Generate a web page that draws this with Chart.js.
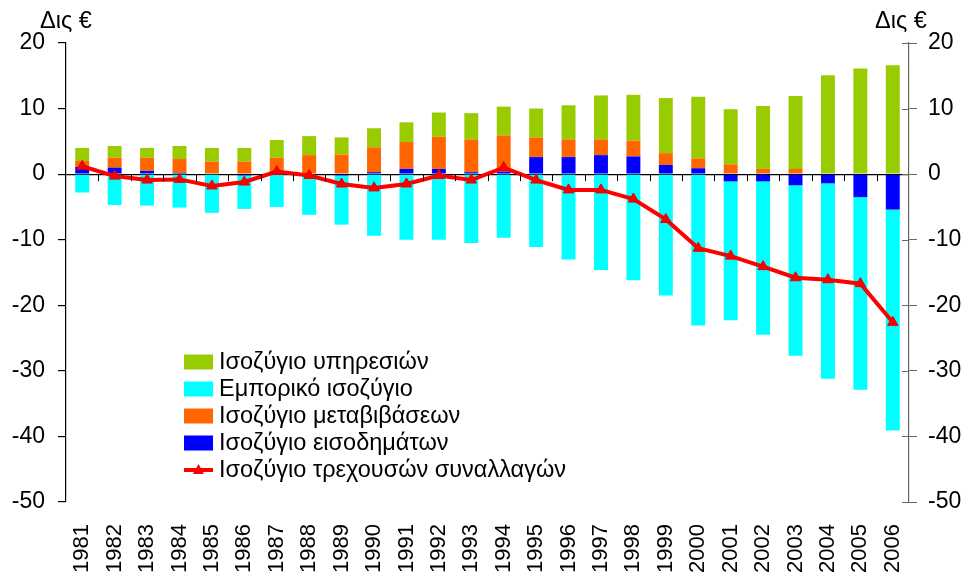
<!DOCTYPE html>
<html>
<head>
<meta charset="utf-8">
<script src="https://cdn.jsdelivr.net/npm/chart.js@4.4.1/dist/chart.umd.min.js"></script>
<style>
  html, body { margin: 0; padding: 0; background: #fff; }
</style>
</head>
<body>
<canvas id="myChart" width="965" height="574"></canvas>
<script>
const years = ['1981','1982','1983','1984','1985','1986','1987','1988','1989','1990','1991','1992','1993',
               '1994','1995','1996','1997','1998','1999','2000','2001','2002','2003','2004','2005','2006'];

// Δις €
const services  = [2.0, 1.8, 1.5, 2.0, 2.1, 2.1, 2.7, 2.9, 2.6, 2.9, 3.0, 3.7, 4.0,
                   4.4, 4.4, 5.2, 6.7, 7.0, 8.4, 9.4, 8.4, 9.6, 11.1, 15.1, 16.1, 16.6];
const trade     = [-2.8, -4.7, -4.8, -5.1, -5.9, -5.1, -5.0, -6.2, -7.5, -9.4, -10.0, -10.0, -10.5,
                   -9.7, -11.1, -13.0, -14.6, -16.2, -18.5, -23.1, -21.2, -23.4, -26.0, -29.8, -29.4, -33.7];
const transfers = [0.9, 1.5, 2.0, 2.1, 1.9, 1.9, 2.5, 2.9, 3.0, 3.8, 4.1, 4.9, 5.0,
                   5.5, 3.0, 2.7, 2.4, 2.4, 1.8, 1.5, 1.5, 0.8, 0.8, 0.0, 0.0, 0.0];
const income    = [1.1, 1.0, 0.5, 0.2, 0.0, -0.2, 0.0, 0.0, -0.2, 0.3, 0.8, 0.8, 0.3,
                   0.4, 2.6, 2.6, 2.9, 2.7, 1.4, 0.9, -1.1, -1.1, -1.7, -1.4, -3.5, -5.4];
const current   = [1.2, -0.3, -0.9, -0.8, -1.8, -1.2, 0.4, -0.2, -1.5, -2.1, -1.5, -0.2, -0.9,
                   1.0, -0.9, -2.4, -2.4, -3.8, -6.9, -11.3, -12.5, -14.1, -15.8, -16.1, -16.7, -22.6];

const yTicks = [-50, -40, -30, -20, -10, 0, 10, 20];
const unitLabel = 'Δις €';

const FONT = "'Liberation Sans', Arial, sans-serif";
const GREEN = '#99cc00', CYAN = '#00ffff', ORANGE = '#ff6600', BLUE = '#0000ff', RED = '#ff0000';

// legend order as in the picture
const legendOrder = [
  { label: 'Ισοζύγιο υπηρεσιών', color: GREEN },
  { label: 'Εμπορικό ισοζύγιο', color: CYAN },
  { label: 'Ισοζύγιο μεταβιβάσεων', color: ORANGE },
  { label: 'Ισοζύγιο εισοδημάτων', color: BLUE },
  { label: 'Ισοζύγιο τρεχουσών συναλλαγών', color: RED, line: true }
];

const extras = {
  id: 'extras',
  afterDraw(chart) {
    const ctx = chart.ctx;
    const x = chart.scales.x, y = chart.scales.y, y2 = chart.scales.y2;
    const area = chart.chartArea;
    ctx.save();

    // small ticks along the zero line, between categories
    const step = x.getPixelForTick(1) - x.getPixelForTick(0);
    const y0 = y.getPixelForValue(0);
    ctx.strokeStyle = '#000';
    ctx.lineWidth = 1;
    for (let i = 1; i < years.length; i++) {
      const px = Math.round(x.getPixelForTick(i) - step / 2) + 0.5;
      ctx.beginPath();
      ctx.moveTo(px, y0);
      ctx.lineTo(px, y0 + 7);
      ctx.stroke();
    }

    // right axis ticks cross the axis line
    ctx.strokeStyle = '#666';
    yTicks.forEach(v => {
      const py = Math.round(y2.getPixelForValue(v)) + 0.5;
      ctx.beginPath();
      ctx.moveTo(area.right - 7, py);
      ctx.lineTo(area.right, py);
      ctx.stroke();
    });

    // unit titles
    ctx.fillStyle = '#000';
    ctx.font = '23.5px ' + FONT;
    ctx.textBaseline = 'alphabetic';
    ctx.textAlign = 'left';
    ctx.fillText(unitLabel, 40, 28);
    ctx.fillText(unitLabel, 875, 28);

    // legend
    const lx = 184, ly = 362, rowH = 27;
    ctx.font = '23.5px ' + FONT;
    ctx.textBaseline = 'middle';
    legendOrder.forEach((item, i) => {
      const cy = ly + i * rowH;
      if (item.line) {
        ctx.strokeStyle = item.color;
        ctx.lineWidth = 4;
        ctx.beginPath();
        ctx.moveTo(lx, cy);
        ctx.lineTo(lx + 29, cy);
        ctx.stroke();
        ctx.fillStyle = item.color;
        ctx.beginPath();
        ctx.moveTo(lx + 14.5, cy - 6);
        ctx.lineTo(lx + 20, cy + 4);
        ctx.lineTo(lx + 9, cy + 4);
        ctx.closePath();
        ctx.fill();
      } else {
        ctx.fillStyle = item.color;
        ctx.fillRect(lx, cy - 7.5, 29, 15);
      }
      ctx.fillStyle = '#000';
      ctx.fillText(item.label, lx + 35, cy + 1);
    });
    ctx.restore();
  }
};

const tickFont = { family: FONT, size: 23 };

new Chart('myChart', {
  type: 'bar',
  data: {
    labels: years,
    datasets: [
      { type: 'line', label: legendOrder[4].label, data: current, stack: 'line',
        borderColor: RED, borderWidth: 4, backgroundColor: RED,
        pointStyle: 'triangle', pointRadius: 6, pointBackgroundColor: RED, pointBorderColor: '#e60000',
        pointBorderWidth: 1, tension: 0 },
      { label: legendOrder[3].label, data: income, backgroundColor: BLUE, stack: 'bars' },
      { label: legendOrder[2].label, data: transfers, backgroundColor: ORANGE, stack: 'bars' },
      { label: legendOrder[0].label, data: services, backgroundColor: GREEN, stack: 'bars' },
      { label: legendOrder[1].label, data: trade, backgroundColor: CYAN, stack: 'bars' }
    ]
  },
  options: {
    responsive: false,
    animation: false,
    devicePixelRatio: 1,
    datasets: { bar: { categoryPercentage: 1, barPercentage: 0.43 } },
    layout: { padding: { top: 43, left: 0, right: 0, bottom: 0 } },
    plugins: { legend: { display: false }, tooltip: { enabled: false } },
    scales: {
      x: {
        stacked: true,
        offset: true,
        grid: { display: false },
        border: { display: false },
        ticks: { minRotation: 90, maxRotation: 90, autoSkip: false, padding: 14, color: '#000',
                 font: { family: FONT, size: 22 } },
        afterFit(s) { s.height = 72; }
      },
      y: {
        position: 'left',
        stacked: true,
        min: -50, max: 20,
        ticks: { stepSize: 10, padding: 13, color: '#000', font: tickFont },
        grid: { color: c => (c.tick && c.tick.value === 0 ? '#000' : 'rgba(0,0,0,0)'),
                tickColor: '#000', tickLength: 8, lineWidth: 1.2 },
        border: { color: '#000', width: 1.2 },
        afterFit(s) { s.width = 66; }
      },
      y2: {
        position: 'right',
        min: -50, max: 20,
        ticks: { stepSize: 10, padding: 11, color: '#000', font: tickFont },
        grid: { drawOnChartArea: false, tickColor: '#666', tickLength: 8 },
        border: { color: '#666', width: 1.2 },
        afterFit(s) { s.width = 56; }
      }
    }
  },
  plugins: [extras]
});
</script>
</body>
</html>
